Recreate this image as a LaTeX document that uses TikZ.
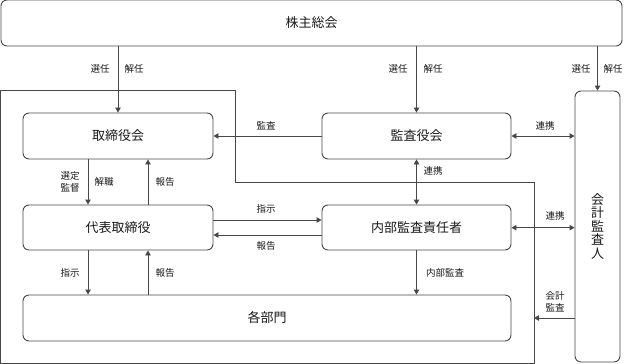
\documentclass[tikz,border=0pt]{standalone}
\usepackage{fontspec}
\setmainfont{Noto Sans CJK JP}
\usetikzlibrary{arrows.meta,calc}
\begin{document}
\begin{tikzpicture}[x=1pt,y=-1pt,
  line/.style={draw=black!72,line width=0.9pt},
  box/.style={line,rounded corners=6pt,font=\fontsize{13}{15}\selectfont,text=black!90,inner sep=0pt},
  arr/.style={line,-{Triangle[length=5pt,width=5.5pt]}},
  darr/.style={line,{Triangle[length=5pt,width=5.5pt]}-{Triangle[length=5pt,width=5.5pt]}},
  lbl/.style={font=\fontsize{9.5}{11}\selectfont,text=black!90,inner sep=0pt,align=center}]
\useasboundingbox (0,0) rectangle (624,364);
% company boundary
\draw[line] (0.5,90.5) -- (235,90.5) -- (235,182) -- (534,182) -- (534,363.5) -- (0.5,363.5) -- cycle;
% boxes
\node[box,minimum width=621pt,minimum height=46pt] (soukai) at (311.5,23) {株主総会};
\node[box,minimum width=190pt,minimum height=46pt] (tori) at (118,136) {取締役会};
\node[box,minimum width=190pt,minimum height=45pt] (daihyo) at (118,227.5) {代表取締役};
\node[box,minimum width=488pt,minimum height=46pt] (kakubu) at (267,318) {各部門};
\node[box,minimum width=189pt,minimum height=46pt] (kansa) at (416.5,136) {監査役会};
\node[box,minimum width=189pt,minimum height=45pt] (naibu) at (416.5,227.5) {内部監査責任者};
\node[box,minimum width=45pt,minimum height=271pt,align=center,font=\fontsize{13}{13.5}\selectfont] (kaikei) at (597.5,226.5) {会\\計\\監\\査\\人};
% connectors from 株主総会
\draw[arr] (soukai.south -| tori.north) -- (tori.north);
\draw[arr] (soukai.south -| kansa.north) -- (kansa.north);
\draw[arr] (soukai.south -| kaikei.north) -- (kaikei.north);
\node[lbl] (l1) at (100,69) {選任};
\node[lbl] (l2) at (134,69) {解任};
\node[lbl] (l3) at (398,69) {選任};
\node[lbl] (l4) at (433,69) {解任};
\node[lbl] (l5) at (581,69) {選任};
\node[lbl] (l6) at (613,69) {解任};
% 監査役会 relations
\draw[arr] (kansa.west) -- (tori.east);
\node[lbl] (l7) at (266,126) {監査};
\draw[darr] (kansa.east) -- (kansa.east -| kaikei.west);
\node[lbl] (l8) at (545,126) {連携};
\draw[darr] (kansa.south) -- (naibu.north);
\node[lbl] (l9) at (433,171) {連携};
% 取締役会 - 代表取締役
\draw[arr] ([xshift=-30pt]tori.south) -- ([xshift=-30pt]daihyo.north);
\draw[arr] ([xshift=30pt]daihyo.north) -- ([xshift=30pt]tori.south);
\node[lbl,font=\fontsize{9.5}{11.5}\selectfont] (l10) at (70,182) {選定\\監督};
\node[lbl] (l11) at (104,182) {解職};
\node[lbl] (l12) at (165,182) {報告};
% 代表取締役 - 内部監査責任者
\draw[arr] ([yshift=7.5pt]daihyo.east) -- ([yshift=7.5pt]naibu.west);
\draw[arr] ([yshift=-7.5pt]naibu.west) -- ([yshift=-7.5pt]daihyo.east);
\node[lbl] (l13) at (266,209) {指示};
\node[lbl] (l14) at (266,246) {報告};
% 代表取締役 - 各部門
\draw[arr] ([xshift=-30pt]daihyo.south) -- (kakubu.north -| 88,0);
\draw[arr] (kakubu.north -| 148,0) -- ([xshift=30pt]daihyo.south);
\node[lbl] (l15) at (70,273) {指示};
\node[lbl] (l16) at (165,273) {報告};
% 内部監査
\draw[arr] (naibu.south) -- (kakubu.north -| naibu.south);
\node[lbl] (l17) at (445,273) {内部監査};
\draw[darr] (naibu.east |- 0,227.7) -- (kaikei.west |- 0,227.7);
\node[lbl] (l18) at (555,216) {連携};
% 会計監査
\coordinate (bnd) at (534,318);
\draw[arr] (kaikei.west |- bnd) -- (bnd);
\node[lbl,font=\fontsize{9.5}{11.5}\selectfont] (l19) at (555,302) {会計\\監査};
\end{tikzpicture}
\end{document}
